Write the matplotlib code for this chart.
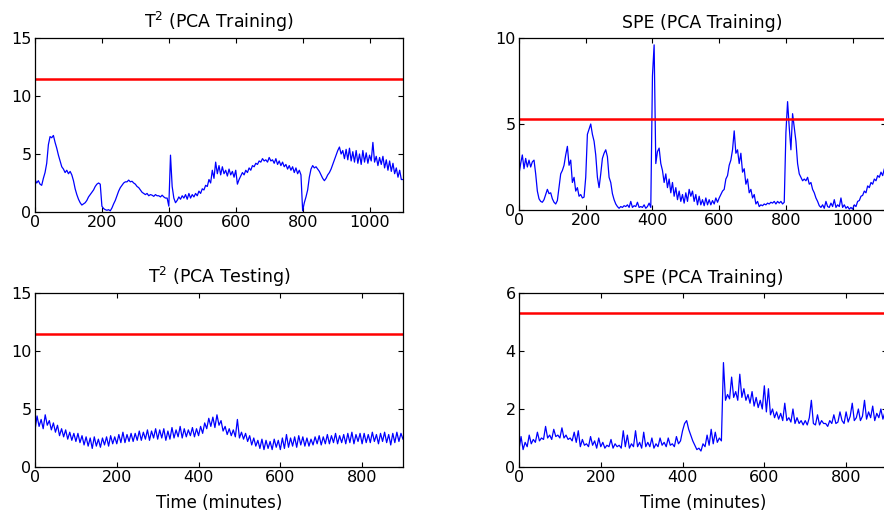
import numpy as np
import matplotlib
matplotlib.use("Agg")
import matplotlib.pyplot as plt

plt.rcParams['font.family'] = ['DejaVu Sans']
plt.rcParams['mathtext.fontset'] = 'dejavusans'

# ---------------- data (5-minute spacing) ----------------
train_time = np.arange(0, 1101, 5)
test_time = np.arange(0, 901, 5)

t2_train = [
    2.8, 2.5, 2.7, 2.4, 2.3, 2.9, 3.4, 4.2, 5.8, 6.5, 6.4, 6.6, 6.0, 5.5, 4.9, 4.4, 3.9, 3.7, 3.4, 3.6,
    3.3, 3.5, 3.2, 2.7, 2.0, 1.5, 1.1, 0.8, 0.6, 0.7, 0.8, 1.0, 1.3, 1.5, 1.7, 1.9, 2.2, 2.4, 2.5, 2.4,
    0.5, 0.3, 0.2, 0.15, 0.2, 0.1, 0.35, 0.7, 1.0, 1.4, 1.8, 2.1, 2.3, 2.5, 2.6, 2.6, 2.75, 2.6, 2.65, 2.5,
    2.4, 2.2, 2.1, 1.9, 1.7, 1.6, 1.5, 1.6, 1.4, 1.5, 1.45, 1.35, 1.5, 1.4, 1.4, 1.3, 1.45, 1.3, 1.2, 1.2,
    0.5, 4.9, 2.2, 1.2, 0.8, 1.0, 1.3, 1.1, 1.4, 1.2, 1.5, 1.1, 1.6, 1.2, 1.5, 1.3, 1.6, 1.4, 1.8, 1.6,
    2.0, 1.9, 2.3, 2.2, 2.8, 2.5, 3.6, 2.9, 4.3, 3.3, 4.0, 3.2, 3.9, 3.3, 3.6, 3.1, 3.7, 3.2, 3.5, 3.0,
    3.6, 2.4, 2.8, 3.1, 3.4, 3.2, 3.6, 3.4, 3.8, 3.6, 4.0, 3.9, 4.2, 4.1, 4.4, 4.3, 4.6, 4.4, 4.5, 4.3,
    4.7, 4.4, 4.5, 4.2, 4.6, 4.1, 4.4, 4.0, 4.3, 3.9, 4.1, 3.7, 4.0, 3.6, 3.9, 3.4, 3.8, 3.3, 3.6, 3.2,
    0.1, 0.8, 1.3, 1.9, 3.0, 3.7, 4.0, 3.8, 3.9, 3.7, 3.5, 3.2, 2.9, 2.7, 2.9, 3.2, 3.4, 3.7, 4.1, 4.5,
    4.9, 5.3, 5.6, 5.0, 5.3, 4.6, 5.4, 4.5, 5.5, 4.4, 5.2, 4.3, 5.3, 4.2, 5.0, 4.1, 5.3, 4.3, 5.1, 4.2,
    4.9, 4.4, 6.0, 4.3, 4.8, 4.0, 4.7, 4.1, 4.8, 3.8, 4.5, 3.6, 4.4, 3.5, 4.2, 3.3, 3.8, 3.0, 3.6, 2.8,
    2.8,
]

spe_train = [
    2.1, 2.7, 3.2, 2.4, 3.0, 2.5, 2.9, 2.5, 2.8, 2.9, 2.1, 1.1, 0.65, 0.5, 0.45, 0.6, 0.9, 1.2, 0.95, 1.0,
    0.65, 0.45, 0.35, 0.55, 1.3, 2.1, 2.3, 2.6, 3.2, 3.7, 2.6, 2.9, 1.6, 1.9, 1.1, 1.3, 0.8, 0.9, 0.7, 0.75,
    1.9, 4.4, 4.7, 5.0, 4.4, 4.0, 3.2, 1.9, 1.3, 2.1, 3.0, 3.3, 3.5, 3.1, 1.9, 1.6, 0.95, 0.6, 0.35, 0.2,
    0.1, 0.2, 0.15, 0.25, 0.2, 0.3, 0.15, 0.5, 0.15, 0.25, 0.2, 0.45, 0.15, 0.2, 0.15, 0.3, 0.1, 0.2, 0.4, 0.15,
    7.8, 9.6, 2.7, 3.4, 3.6, 2.7, 2.3, 1.6, 2.1, 1.3, 1.8, 1.0, 1.6, 0.8, 1.3, 0.6, 1.1, 0.5, 0.9, 0.4,
    1.0, 0.5, 1.2, 0.8, 1.1, 0.5, 0.9, 0.3, 0.8, 0.3, 0.6, 0.25, 0.7, 0.3, 0.6, 0.3, 0.55, 0.35, 0.7, 0.45,
    0.7, 0.9, 1.1, 1.2, 1.8, 2.0, 2.6, 2.9, 3.5, 4.6, 3.3, 3.5, 2.7, 3.3, 2.2, 2.4, 1.5, 1.8, 1.0, 1.2,
    0.7, 0.9, 0.35, 0.5, 0.2, 0.3, 0.25, 0.35, 0.3, 0.4, 0.35, 0.45, 0.4, 0.5, 0.35, 0.5, 0.4, 0.5, 0.35, 0.45,
    4.5, 6.3, 4.8, 3.5, 5.6, 4.8, 4.0, 2.7, 2.1, 1.9, 1.7, 1.8, 1.7, 1.9, 1.5, 1.6, 1.2, 1.0, 0.7, 0.5,
    0.25, 0.15, 0.3, 0.1, 0.5, 0.2, 0.15, 0.4, 0.2, 0.6, 0.15, 0.3, 0.2, 0.7, 0.15, 0.3, 0.1, 0.2, 0.05, 0.15,
    0.05, 0.3, 0.2, 0.5, 0.55, 0.8, 0.85, 1.1, 1.0, 1.4, 1.3, 1.6, 1.5, 1.8, 1.7, 2.0, 1.9, 2.2, 2.0, 2.4,
    2.3,
]

t2_test = [
    3.2, 4.4, 3.5, 4.1, 3.3, 4.5, 3.6, 4.0, 3.2, 3.8, 3.0, 3.6, 2.7, 3.3, 2.6, 3.2, 2.4, 3.0, 2.3, 2.9,
    2.2, 2.9, 2.1, 2.7, 1.9, 2.6, 1.8, 2.5, 1.6, 2.6, 1.8, 2.4, 1.7, 2.5, 1.9, 2.6, 1.8, 2.7, 2.0, 2.6,
    2.0, 2.8, 2.1, 3.0, 2.1, 2.8, 2.2, 2.9, 2.2, 2.9, 2.3, 3.1, 2.3, 3.0, 2.4, 3.2, 2.3, 3.1, 2.5, 3.3,
    2.4, 3.2, 2.5, 3.3, 2.3, 3.1, 2.4, 3.4, 2.5, 3.2, 2.6, 3.5, 2.5, 3.3, 2.6, 3.2, 2.7, 3.4, 2.6, 3.3,
    2.7, 3.5, 2.9, 3.8, 3.3, 4.2, 3.5, 4.3, 3.4, 4.5, 3.6, 4.0, 3.1, 3.5, 2.8, 3.3, 2.7, 3.2, 2.6, 4.1,
    2.5, 3.0, 2.4, 2.9, 2.2, 2.7, 1.9, 2.5, 1.8, 2.3, 1.6, 2.4, 1.5, 2.3, 1.6, 2.2, 1.5, 2.4, 1.7, 2.3,
    1.5, 2.5, 1.6, 2.8, 1.7, 2.5, 1.8, 2.6, 1.7, 2.7, 1.9, 2.6, 1.8, 2.5, 1.8, 2.4, 1.9, 2.6, 2.0, 2.7,
    1.9, 2.6, 2.0, 2.8, 2.0, 2.7, 2.1, 2.9, 2.0, 2.7, 2.1, 2.8, 2.0, 2.9, 2.1, 3.0, 2.0, 2.8, 2.2, 2.9,
    2.0, 2.9, 2.1, 2.8, 2.1, 3.0, 2.2, 2.8, 2.0, 2.9, 2.2, 3.0, 2.1, 2.8, 1.9, 2.9, 2.1, 3.0, 2.2, 2.9,
    2.4,
]

spe_test = [
    0.6, 1.05, 0.6, 0.85, 0.7, 1.1, 0.8, 0.95, 0.85, 1.2, 0.9, 1.0, 0.95, 1.4, 1.0, 1.1, 0.95, 1.3, 1.05, 1.1,
    1.0, 1.35, 1.0, 1.1, 0.95, 1.0, 0.9, 1.2, 0.85, 1.25, 0.7, 0.95, 0.75, 0.8, 0.7, 1.05, 0.75, 0.9, 0.65, 1.0,
    0.7, 0.85, 0.65, 0.75, 0.7, 0.95, 0.65, 0.8, 0.7, 0.75, 0.65, 1.25, 0.7, 1.1, 0.65, 0.8, 0.7, 1.25, 0.7, 0.85,
    0.65, 1.2, 0.7, 0.85, 0.7, 1.0, 0.65, 0.8, 0.7, 1.0, 0.75, 0.85, 0.7, 1.0, 0.75, 0.8, 0.7, 1.05, 0.8, 0.9,
    1.25, 1.5, 1.6, 1.3, 1.1, 0.9, 0.75, 0.6, 0.65, 0.55, 0.8, 0.7, 1.1, 0.75, 1.3, 0.8, 1.2, 0.85, 1.0, 0.9,
    3.6, 2.3, 2.5, 2.35, 3.1, 2.4, 2.6, 2.3, 3.2, 2.4, 2.7, 2.3, 2.5, 2.2, 2.6, 2.1, 2.4, 2.05, 2.3, 2.0,
    2.8, 1.9, 2.7, 1.8, 2.0, 1.7, 1.9, 1.65, 1.85, 1.6, 2.2, 1.6, 1.7, 1.55, 2.0, 1.5, 1.7, 1.5, 1.6, 1.45,
    1.6, 1.45, 1.7, 2.3, 1.5, 1.45, 1.8, 1.45, 1.6, 1.5, 1.5, 1.4, 1.6, 1.5, 1.8, 1.5, 1.55, 1.9, 1.6, 1.5,
    1.9, 1.55, 1.75, 2.2, 1.6, 1.7, 2.0, 1.6, 1.75, 2.3, 1.65, 1.9, 1.7, 2.1, 1.6, 1.85, 1.7, 2.0, 1.65, 1.9,
    1.75,
]

t2_limit = 11.5
spe_limit = 5.3

titles = [r'T$^{2}$ (PCA Training)', 'SPE (PCA Training)',
          r'T$^{2}$ (PCA Testing)', 'SPE (PCA Training)']
xlabel = 'Time (minutes)'

# ---------------- layout ----------------
W, H = 884, 514
fig = plt.figure(figsize=(W / 100, H / 100), dpi=100)


def px_axes(x0, x1, ytop, ybot):
    return fig.add_axes([x0 / W, (H - ybot) / H, (x1 - x0) / W, (ybot - ytop) / H])


panels = [
    dict(rect=(35, 403, 38, 212), x=train_time, y=t2_train, lim=t2_limit,
         xlim=1100, ylim=15, xt=np.arange(0, 1001, 200), yt=[0, 5, 10, 15]),
    dict(rect=(519, 886, 38, 210), x=train_time, y=spe_train, lim=spe_limit,
         xlim=1100, ylim=10, xt=np.arange(0, 1001, 200), yt=[0, 5, 10]),
    dict(rect=(35, 403, 293, 467), x=test_time, y=t2_test, lim=t2_limit,
         xlim=900, ylim=15, xt=np.arange(0, 801, 200), yt=[0, 5, 10, 15]),
    dict(rect=(519, 887, 293, 467), x=test_time, y=spe_test, lim=spe_limit,
         xlim=900, ylim=6, xt=np.arange(0, 801, 200), yt=[0, 2, 4, 6]),
]

for i, p in enumerate(panels):
    ax = px_axes(*p['rect'])
    ax.plot(p['x'], p['y'], color='#0000ff', lw=0.9)
    ax.axhline(p['lim'], color='#ff0000', lw=1.8)
    ax.set_xlim(0, p['xlim'])
    ax.set_ylim(0, p['ylim'])
    ax.set_xticks(p['xt'])
    ax.set_yticks(p['yt'])
    ax.tick_params(direction='in', top=True, right=True, length=3.5, width=0.8,
                   labelsize=11.5, pad=2.5, colors='black')
    for s in ax.spines.values():
        s.set_linewidth(0.9)
    ax.set_title(titles[i], fontsize=12.5, pad=7)
    if i >= 2:
        ax.set_xlabel(xlabel, fontsize=12, labelpad=6)

fig.savefig('out.png', dpi=100)
